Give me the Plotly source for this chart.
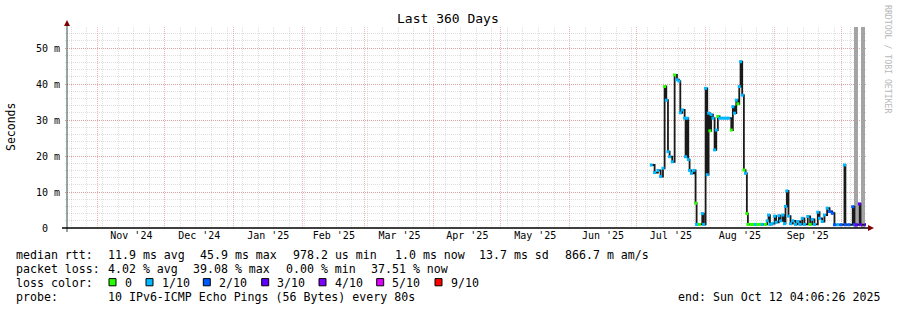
import plotly.graph_objects as go
import pandas as pd

# ---------------- data ----------------
dates = [
    "2025-07-07 16:00", "2025-07-09 04:00", "2025-07-10 16:00", "2025-07-11 21:00",
    "2025-07-12 22:00", "2025-07-13 16:00", "2025-07-14 10:00", "2025-07-15 04:00",
    "2025-07-15 22:00", "2025-07-17 02:00", "2025-07-18 04:00", "2025-07-19 05:00",
    "2025-07-20 02:00", "2025-07-20 17:00", "2025-07-21 14:00", "2025-07-22 16:00",
    "2025-07-23 02:00", "2025-07-23 20:00", "2025-07-24 07:00", "2025-07-24 21:00",
    "2025-07-25 16:00", "2025-07-26 20:00", "2025-07-27 14:00", "2025-07-28 01:00",
    "2025-07-29 06:00", "2025-07-30 14:00", "2025-07-31 05:00", "2025-08-01 02:00",
    "2025-08-01 20:00", "2025-08-02 10:00", "2025-08-03 00:00", "2025-08-03 14:00",
    "2025-08-04 09:00", "2025-08-05 03:00", "2025-08-05 21:00", "2025-08-06 14:00",
    "2025-08-07 09:00", "2025-08-08 12:00", "2025-08-09 12:00", "2025-08-10 12:00",
    "2025-08-11 12:00", "2025-08-12 15:00", "2025-08-13 08:00", "2025-08-14 02:00",
    "2025-08-14 21:00", "2025-08-15 14:00", "2025-08-16 05:00", "2025-08-16 19:00",
    "2025-08-17 13:00", "2025-08-18 07:00", "2025-08-19 01:00", "2025-08-19 15:00",
    "2025-08-20 02:00", "2025-08-21 12:00", "2025-08-22 12:00", "2025-08-23 12:00",
    "2025-08-24 12:00", "2025-08-25 12:00", "2025-08-26 12:00", "2025-08-27 23:00",
    "2025-08-28 19:00", "2025-08-29 09:00", "2025-08-30 00:00", "2025-08-31 00:00",
    "2025-09-01 03:00", "2025-09-01 19:00", "2025-09-03 00:00", "2025-09-03 19:00",
    "2025-09-04 19:00", "2025-09-05 13:00", "2025-09-06 00:00", "2025-09-06 14:00",
    "2025-09-07 08:00", "2025-09-08 06:00", "2025-09-09 07:00", "2025-09-10 12:00",
    "2025-09-11 12:00", "2025-09-12 14:00", "2025-09-13 12:00", "2025-09-14 12:00",
    "2025-09-16 00:00", "2025-09-17 02:00", "2025-09-18 00:00", "2025-09-19 00:00",
    "2025-09-20 12:00", "2025-09-21 07:00", "2025-09-22 12:00", "2025-09-23 12:00",
    "2025-09-24 17:00", "2025-09-25 19:00", "2025-09-27 00:00", "2025-09-28 00:00",
    "2025-09-29 12:00", "2025-10-01 00:00", "2025-10-02 12:00", "2025-10-02 22:00",
    "2025-10-04 12:00", "2025-10-06 05:00", "2025-10-07 00:00", "2025-10-07 19:00",
    "2025-10-09 05:00", "2025-10-09 17:00", "2025-10-12 04:00",
]
median_ms = [
    17.5, 15.4, 16.0, 14.3,
    16.6, 39.3, 35.5, 21.2,
    19.8, 18.4, 42.5, 41.2,
    40.8, 32.0, 32.8, 30.5,
    19.8, 30.5, 19.0, 16.0,
    15.2, 16.0, 6.9, 1.0,
    1.0, 4.0, 1.0, 38.8,
    14.8, 31.9, 27.0, 31.5,
    30.5, 21.7, 27.2, 31.0,
    30.5, 30.5, 30.5, 30.5,
    30.5, 27.2, 33.7, 31.9,
    35.5, 34.5, 39.3, 46.2,
    36.9, 16.1, 15.2, 4.0,
    1.0, 1.0, 1.0, 1.0,
    1.0, 1.0, 1.0, 1.0,
    2.0, 3.6, 1.0, 1.2,
    3.3, 1.6, 3.4, 2.0,
    3.6, 1.2, 6.0, 10.3,
    3.3, 1.2, 2.0, 1.0,
    1.8, 1.0, 2.7, 1.0,
    3.2, 1.0, 2.4, 1.0,
    4.4, 2.7, 1.8, 3.6,
    5.5, 4.6, 4.1, 0.9,
    0.9, 0.9, 17.5, 0.9,
    0.9, 5.9, 0.9, 0.9,
    6.7, 0.9, 0.9,
]
loss_idx = [
    1, 1, 1, 1,
    1, 0, 1, 1,
    1, 1, 0, 1,
    1, 1, 1, 1,
    1, 1, 1, 1,
    1, 1, 0, 1,
    0, 1, 1, 1,
    1, 1, 0, 1,
    1, 1, 1, 0,
    1, 1, 1, 1,
    1, 0, 1, 1,
    1, 0, 1, 1,
    1, 0, 1, 0,
    0, 0, 0, 1,
    0, 0, 1, 0,
    1, 1, 1, 1,
    1, 1, 1, 1,
    1, 1, 1, 1,
    1, 1, 1, 1,
    1, 1, 1, 1,
    1, 0, 1, 1,
    1, 1, 1, 1,
    1, 2, 2, 2,
    1, 2, 1, 2,
    2, 2, 2, 3,
    3, 3, 3,
]
gap_start = ["2025-10-07 00:00", "2025-10-10 03:00"]
gap_end = ["2025-10-08 19:00", "2025-10-11 22:00"]

loss_colors = ["#26ff00", "#00b8ff", "#0059ff", "#5e00ff", "#7e00ff", "#dd00ff", "#ff0000"]
loss_labels = ["0", "1/10", "2/10", "3/10", "4/10", "5/10", "9/10"]

y_ticks = [0, 10, 20, 30, 40, 50]
y_ticktext = ["0\u00a0\u00a0", "10 m", "20 m", "30 m", "40 m", "50 m"]

x_start = "2024-10-17 04:06:26"
x_end = "2025-10-12 04:06:26"

title = "Last 360 Days"
rtt_items = ["median rtt:", "11.9 ms avg", "45.9 ms max", "978.2 us min", "1.0 ms now",
             "13.7 ms sd", "866.7 m am/s"]
loss_items = ["packet loss:", "4.02 % avg", "39.08 % max", "0.00 % min", "37.51 % now"]
probe_items = ["probe:", "10 IPv6-ICMP Echo Pings (56 Bytes) every 80s"]
line_end = "end: Sun Oct 12 04:06:26 2025"
watermark = "RRDTOOL / TOBI OETIKER"

# ---------------- layout constants ----------------
W, H = 897, 310
ML, MR, MT, MB = 65, 31, 27, 82
PW, PH = W - ML - MR, H - MT - MB
Y_TOP = PH / 3.6
MONO = "DejaVu Sans Mono"
AXIS = "#2C4D43"
ARROW = "#7F0000"
GRID = "rgba(140,140,140,0.28)"
MGRID = "rgba(210,70,70,0.40)"

rtt_x = [16, 107.7, 200.3, 293.2, 394.5, 478.8, 564.5]
loss_x = [16, 107.7, 193.2, 285.9, 371.3]
probe_x = [16, 107.7]
box_x = [109, 146, 203.3, 261.7, 319, 376.7, 435]


def px(x):
    return (x - ML) / PW


def py(y):
    return (H - MB - y) / PH


fig = go.Figure()

# unknown-data bars
gs = pd.to_datetime(gap_start)
ge = pd.to_datetime(gap_end)
fig.add_trace(go.Bar(
    x=gs, y=[Y_TOP] * len(gs),
    width=[(e - s).total_seconds() * 1000 for s, e in zip(gs, ge)],
    offset=0, marker=dict(color="#a4a4a4", line=dict(width=0)),
    hoverinfo="skip", showlegend=False,
))

# smoke / rtt line
fig.add_trace(go.Scatter(
    x=dates, y=median_ms, mode="lines", line=dict(color="#1a1a1a", width=1.8, shape="hv"),
    showlegend=False, hoverinfo="skip",
))
# loss-coloured medians
fig.add_trace(go.Scatter(
    x=dates, y=median_ms, mode="markers",
    marker=dict(symbol="square", size=3, color=[loss_colors[i] for i in loss_idx], line=dict(width=0)),
    showlegend=False, hoverinfo="skip",
))

fig.update_layout(
    width=W, height=H,
    margin=dict(l=ML, r=MR, t=MT, b=MB, pad=0),
    paper_bgcolor="white", plot_bgcolor="white",
    showlegend=False, bargap=0,
    font=dict(family=MONO, size=10, color="black"),
    xaxis=dict(
        type="date", range=[x_start, x_end],
        tick0="2024-11-01", dtick="M1", ticklabelmode="period", tickformat="%b '%y",
        showgrid=True, gridcolor=MGRID, griddash="1px,1px", gridwidth=1,
        minor=dict(dtick=7 * 86400000, tick0="2024-10-20", showgrid=True,
                   gridcolor=GRID, griddash="1px,1px", gridwidth=1, ticks=""),
        ticks="", showline=False, zeroline=False,
        tickfont=dict(family=MONO, size=10, color="black"),
        fixedrange=True,
    ),
    yaxis=dict(
        range=[0, Y_TOP], tickvals=y_ticks, ticktext=y_ticktext,
        showgrid=True, gridcolor=MGRID, griddash="1px,1px", gridwidth=1,
        minor=dict(dtick=2, showgrid=True, gridcolor=GRID, griddash="1px,1px", gridwidth=1, ticks=""),
        ticks="", showline=False, zeroline=False,
        tickfont=dict(family=MONO, size=10, color="black"),
        ticklabelstandoff=4,
        fixedrange=True,
    ),
)

shapes = []
# y axis line and x axis line
shapes.append(dict(type="line", xref="paper", yref="paper", x0=px(67), x1=px(67), y0=py(232), y1=py(24),
                   line=dict(color=AXIS, width=1)))
shapes.append(dict(type="line", xref="paper", yref="paper", x0=px(62), x1=px(869), y0=py(228), y1=py(228),
                   line=dict(color="black", width=1.5)))
# arrows
shapes.append(dict(type="path", xref="paper", yref="paper",
                   path=f"M {px(64)} {py(26)} L {px(70)} {py(26)} L {px(67)} {py(20)} Z",
                   fillcolor=ARROW, line=dict(width=0)))
shapes.append(dict(type="path", xref="paper", yref="paper",
                   path=f"M {px(868)} {py(225)} L {px(868)} {py(231)} L {px(874)} {py(228)} Z",
                   fillcolor=ARROW, line=dict(width=0)))

annotations = []


def text(x, y, s, anchor="left", size=11.6, color="black", angle=0):
    annotations.append(dict(xref="paper", yref="paper", x=px(x), y=py(y), text=s, showarrow=False,
                            xanchor=anchor, yanchor="middle", textangle=angle,
                            font=dict(family=MONO, size=size, color=color), borderpad=0))


text(448, 19, title, anchor="center", size=13)
text(11, 127, "Seconds", anchor="center", size=11.5, angle=-90)
text(888, 59, watermark, anchor="center", size=8.2, color="#b8b8b8", angle=90)
for xx, s in zip(rtt_x, rtt_items):
    text(xx - 1, 255, s)
for xx, s in zip(loss_x, loss_items):
    text(xx - 1, 268.5, s)
text(15, 282.5, "loss color:")
for xx, s in zip(probe_x, probe_items):
    text(xx - 1, 296.5, s)
text(881, 296.5, line_end, anchor="right")

for bx, col, lab in zip(box_x, loss_colors, loss_labels):
    shapes.append(dict(type="rect", xref="paper", yref="paper", x0=px(bx), x1=px(bx + 7),
                       y0=py(285.8), y1=py(278.6), fillcolor=col, line=dict(color="black", width=1)))
    text(bx + 14.5, 282.5, lab)

fig.update_layout(shapes=shapes, annotations=annotations)
fig.write_html("out.html")
